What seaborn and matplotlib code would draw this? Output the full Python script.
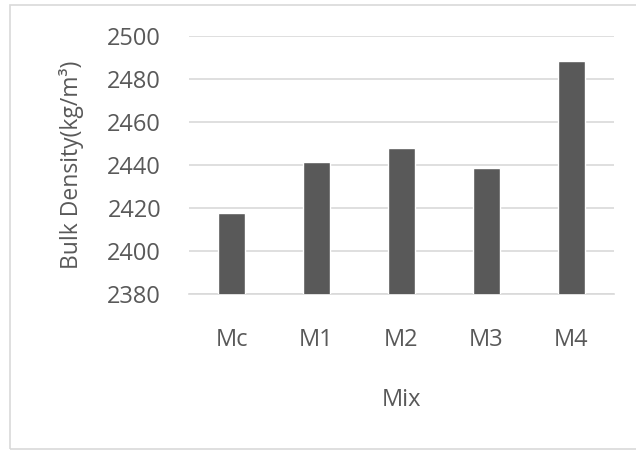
import matplotlib
matplotlib.use("Agg")
import matplotlib.pyplot as plt
from matplotlib.patches import Rectangle
import seaborn as sns
import pandas as pd

# Bulk density of each concrete mix
mixes = ["Mc", "M1", "M2", "M3", "M4"]
bulk_density = [2418, 2441.5, 2448, 2438.5, 2488.5]
y_ticks = [2380, 2400, 2420, 2440, 2460, 2480, 2500]

sns.set_theme(style="white")
plt.rcParams["font.family"] = ["Open Sans", "DejaVu Sans"]

text_color = "#595959"
grid_color = "#D9D9D9"
bar_color = "#595959"

df = pd.DataFrame({"Mix": mixes, "Density": bulk_density})

fig = plt.figure(figsize=(6.36, 4.5), dpi=100)
ax = fig.add_axes([189 / 636, 1 - 294.3 / 450, 425 / 636, (294.3 - 36) / 450])

sns.barplot(data=df, x="Mix", y="Density", color=bar_color, width=0.31,
            saturation=1, ax=ax, zorder=3)

ax.set_ylim(2380, 2500)
ax.set_xlim(-0.5, 4.5)
ax.set_yticks(y_ticks)
ax.set_yticklabels([str(t) for t in y_ticks])
ax.yaxis.grid(True, color=grid_color, linewidth=1.2, zorder=0)
ax.set_axisbelow(True)

for side in ["top", "right", "left"]:
    ax.spines[side].set_visible(False)
ax.spines["bottom"].set_color(grid_color)
ax.spines["bottom"].set_linewidth(1.2)

ax.tick_params(axis="both", length=0, colors=text_color, labelsize=17)
ax.tick_params(axis="y", pad=20)
ax.tick_params(axis="x", pad=24)

ax.set_xlabel("Mix", color=text_color, fontsize=17, labelpad=26)
ax.set_ylabel("Bulk Density(kg/m³)", color=text_color, fontsize=16.5, labelpad=17)

# Light chart-area frame
fig.patches.append(Rectangle((10 / 636, 1 / 450), 640 / 636, 444 / 450,
                             transform=fig.transFigure, fill=False,
                             edgecolor="#D9D9D9", linewidth=1.2))

fig.savefig("out.png", dpi=100, facecolor="white")
